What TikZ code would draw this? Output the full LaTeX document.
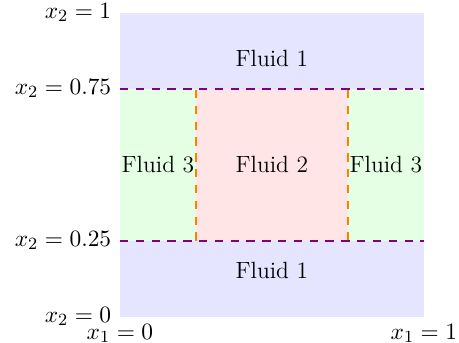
\documentclass[tikz,border=0pt]{standalone}
\begin{document}
\begin{tikzpicture}[font=\fontsize{11}{13.5}\selectfont]
\tikzset{
  fluidlabel/.style={},
  hline/.style={violet, thick, dash pattern=on 3.9pt off 3.5pt},
  vline/.style={orange, semithick, dash pattern=on 3.9pt off 3.5pt},
  axlabel/.style={inner sep=3.33pt}
}
\useasboundingbox (-1.973,-0.432) rectangle (5.577,5.209);
% regions
\fill[blue!10] (0,0) rectangle (5,1.25);
\fill[blue!10] (0,3.75) rectangle (5,5);
\fill[green!10] (0,1.25) rectangle (1.25,3.75);
\fill[green!10] (3.75,1.25) rectangle (5,3.75);
\fill[red!10] (1.25,1.25) rectangle (3.75,3.75);
% interfaces
\draw[vline] (1.25,1.25) -- (1.25,3.75);
\draw[vline] (3.75,1.25) -- (3.75,3.75);
\draw[hline] (0,3.75) -- (5,3.75);
\draw[hline] (0,1.25) -- (5,1.25);
% fluid labels
\node[fluidlabel] (f1t) at (2.5,4.24) {Fluid 1};
\node[fluidlabel] (f1b) at (2.5,0.76) {Fluid 1};
\node[fluidlabel] (f2) at (2.5,2.5) {Fluid 2};
\node[fluidlabel] (f3l) at (0.625,2.5) {Fluid 3};
\node[fluidlabel] (f3r) at (4.375,2.5) {Fluid 3};
% axis labels
\node[axlabel,left] (y1) at (-0.02,5) {$x_2 = 1$};
\node[axlabel,left] (y075) at (-0.02,3.75) {$x_2 = 0.75$};
\node[axlabel,left] (y025) at (-0.02,1.25) {$x_2 = 0.25$};
\node[axlabel,left] (y0) at (-0.02,0) {$x_2 = 0$};
\node[axlabel,below] (xa0) at (0,0) {$x_1 = 0$};
\node[axlabel,below] (xa1) at (5,0) {$x_1 = 1$};
\end{tikzpicture}
\end{document}
